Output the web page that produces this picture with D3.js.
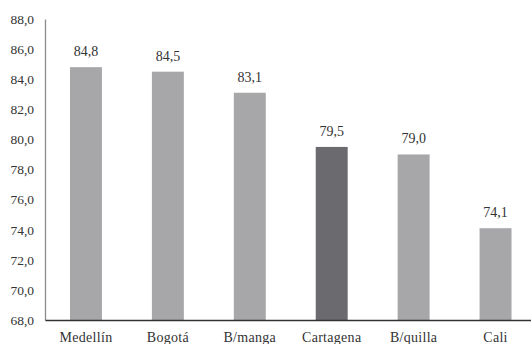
<!DOCTYPE html>
<html>
<head>
<meta charset="utf-8">
<script src="https://cdn.jsdelivr.net/npm/d3@7"></script>
<style>
  html, body { margin: 0; padding: 0; background: #fff; }
</style>
</head>
<body>
<svg id="chart" width="531" height="344"></svg>
<script>
const cities = ["Medellín", "Bogotá", "B/manga", "Cartagena", "B/quilla", "Cali"];
const values = [84.8, 84.5, 83.1, 79.5, 79.0, 74.1];
const highlighted = ["Cartagena"];
const yTicks = [68, 70, 72, 74, 76, 78, 80, 82, 84, 86, 88];

const svg = d3.select("#chart");
const fmt = v => d3.format(".1f")(v).replace(".", ",");
const FONT = "Liberation Serif";

const x = d3.scaleBand().domain(cities).range([45, 536.5]).paddingInner(0.61).paddingOuter(0.305);
const y = d3.scaleLinear().domain([68, 88]).range([320, 19]);

// vertical axis with labels only
const yAxis = svg.append("g").attr("transform", "translate(45,0)")
  .call(d3.axisLeft(y).tickValues(yTicks).tickFormat(fmt).tickSize(0).tickPadding(11));
yAxis.select(".domain").attr("stroke", "#8c8c8c").attr("stroke-width", 1.3);
yAxis.selectAll("text")
  .attr("font-family", FONT).attr("font-size", 13.5).attr("fill", "#333");

// bars
svg.append("g").selectAll("rect").data(cities).join("rect")
  .attr("x", d => x(d))
  .attr("width", x.bandwidth())
  .attr("y", (d, i) => y(values[i]))
  .attr("height", (d, i) => y(68) - y(values[i]))
  .attr("fill", d => highlighted.includes(d) ? "#6b6b6f" : "#a7a7aa");

// value labels
svg.append("g").selectAll("text").data(cities).join("text")
  .attr("x", d => x(d) + x.bandwidth() / 2)
  .attr("y", (d, i) => y(values[i]) - 11)
  .attr("text-anchor", "middle")
  .attr("font-family", FONT).attr("font-size", 14)
  .attr("fill", "#333")
  .text((d, i) => fmt(values[i]));

// baseline and category labels
const xAxis = svg.append("g").attr("transform", `translate(0,${y(68)})`)
  .call(d3.axisBottom(x).tickSize(0).tickPadding(12));
xAxis.select(".domain").attr("stroke", "#333").attr("stroke-width", 1.3);
xAxis.selectAll("text")
  .attr("font-family", FONT).attr("font-size", 14).attr("letter-spacing", 0.3).attr("fill", "#333");
</script>
</body>
</html>
